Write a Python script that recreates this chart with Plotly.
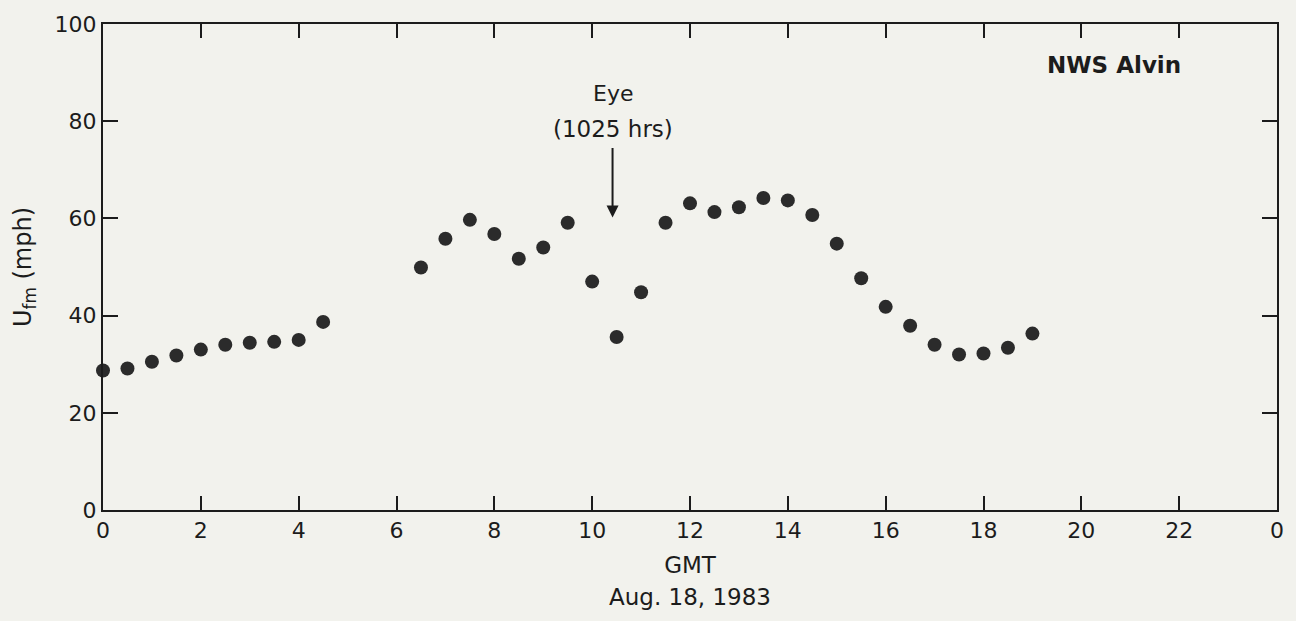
import plotly.graph_objects as go

# Data
gmt_hours = [0, 0.5, 1, 1.5, 2, 2.5, 3, 3.5, 4, 4.5,
             6.5, 7, 7.5, 8, 8.5, 9, 9.5, 10, 10.5, 11, 11.5,
             12, 12.5, 13, 13.5, 14, 14.5, 15, 15.5, 16, 16.5,
             17, 17.5, 18, 18.5, 19]
ufm_mph = [28.7, 29.1, 30.5, 31.8, 33.0, 34.0, 34.4, 34.6, 35.0, 38.7,
           49.9, 55.8, 59.7, 56.8, 51.7, 54.0, 59.1, 47.0, 35.6, 44.8, 59.1,
           63.1, 61.3, 62.3, 64.2, 63.7, 60.7, 54.8, 47.7, 41.8, 37.9,
           34.0, 32.0, 32.2, 33.4, 36.3]
x_tick_vals = [0, 2, 4, 6, 8, 10, 12, 14, 16, 18, 20, 22, 24]
x_tick_text = ["0", "2", "4", "6", "8", "10", "12", "14", "16", "18", "20", "22", "0"]
y_tick_vals = [0, 20, 40, 60, 80, 100]
eye_time = 10 + 25 / 60

BG = "#f2f2ed"
INK = "#1c1c1c"
FONT = "DejaVu Sans, Verdana, sans-serif"

fig = go.Figure()
fig.add_trace(go.Scatter(
    x=gmt_hours, y=ufm_mph, mode="markers",
    marker=dict(size=14, color="#2b2b2b", line=dict(width=0)),
    cliponaxis=False, showlegend=False,
))

fig.update_layout(
    width=1296, height=621,
    paper_bgcolor=BG, plot_bgcolor=BG,
    margin=dict(l=103, r=18, t=19, b=111),
    font=dict(family=FONT, size=22, color=INK),
    xaxis=dict(
        range=[0, 24], tickmode="array", tickvals=x_tick_vals, ticktext=x_tick_text,
        ticks="inside", ticklen=14, tickwidth=2, tickcolor=INK,
        showline=True, linewidth=2, linecolor=INK, mirror="ticks",
        showgrid=False, zeroline=False,
        tickfont=dict(size=22, family=FONT, color=INK),
        title=dict(text="GMT", font=dict(size=23), standoff=14),
    ),
    yaxis=dict(
        range=[0, 100], tickmode="array", tickvals=y_tick_vals,
        ticks="inside", ticklen=15, tickwidth=2, tickcolor=INK,
        showline=True, linewidth=2, linecolor=INK, mirror="ticks",
        showgrid=False, zeroline=False,
        tickfont=dict(size=22, family=FONT, color=INK),
        title=dict(text="U<sub>fm</sub> (mph)", font=dict(size=24), standoff=16),
    ),
)

# Date line under the axis title
fig.add_annotation(x=12, xref="x", y=-0.18, yref="paper", yanchor="middle",
                   text="Aug. 18, 1983", showarrow=False, font=dict(size=23))

# Station label
fig.add_annotation(x=0.92, xref="paper", y=0.915, yref="paper",
                   xanchor="right", yanchor="middle",
                   text="<b>NWS Alvin</b>", showarrow=False, font=dict(size=23))

# Eye annotation text
fig.add_annotation(x=eye_time, xref="x", y=85.6, yref="y", yanchor="middle",
                   text="Eye", showarrow=False, font=dict(size=22))
fig.add_annotation(x=eye_time, xref="x", y=78.3, yref="y", yanchor="middle",
                   text="(1025 hrs)", showarrow=False, font=dict(size=23))

# Arrow
fig.add_annotation(x=eye_time, y=60.2, xref="x", yref="y",
                   ax=eye_time, ay=74.8, axref="x", ayref="y",
                   text="", showarrow=True, arrowhead=2, arrowsize=1.2,
                   arrowwidth=2, arrowcolor=INK)

fig.write_html(
    "out.html",
    config={"displayModeBar": False},
    post_script="document.body.style.margin='0';document.body.style.overflow='hidden';",
)
